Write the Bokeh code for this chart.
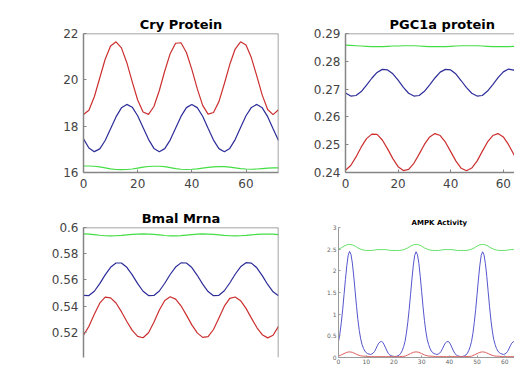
from bokeh.plotting import figure
from bokeh.layouts import column, row
from bokeh.models import Range1d, FixedTicker, Span
from bokeh.embed import file_html
from bokeh.resources import INLINE

# ---------------- data ----------------
t2 = list(range(0, 73, 2))  # hours, every 2 h

cry_red = [18.50, 18.69, 19.27, 20.08, 20.89, 21.46, 21.64, 21.38, 20.74, 19.91, 19.13, 18.61,
           18.51, 18.85, 19.54, 20.38, 21.13, 21.58, 21.60, 21.18, 20.45, 19.62, 18.90, 18.52,
           18.59, 19.06, 19.83, 20.66, 21.33, 21.64, 21.50, 20.95, 20.16, 19.34, 18.72, 18.50, 18.71]
cry_blue = [17.45, 17.06, 16.90, 17.02, 17.38, 17.89, 18.40, 18.79, 18.94, 18.82, 18.45, 17.94,
            17.43, 17.04, 16.90, 17.03, 17.40, 17.91, 18.42, 18.80, 18.94, 18.80, 18.43, 17.91,
            17.40, 17.03, 16.90, 17.04, 17.42, 17.94, 18.45, 18.81, 18.94, 18.79, 18.41, 17.89, 17.38]
cry_green = [16.28, 16.28, 16.27, 16.24, 16.20, 16.16, 16.13, 16.12, 16.13, 16.15, 16.19, 16.23,
             16.26, 16.27, 16.27, 16.25, 16.21, 16.17, 16.14, 16.13, 16.14, 16.16, 16.19, 16.22,
             16.24, 16.25, 16.25, 16.23, 16.20, 16.17, 16.15, 16.14, 16.15, 16.17, 16.19, 16.20, 16.20]

pgc_red = [0.2408, 0.2425, 0.2456, 0.2492, 0.2522, 0.2538, 0.2537, 0.2517, 0.2485, 0.2450, 0.2421, 0.2407,
           0.2411, 0.2433, 0.2466, 0.2501, 0.2528, 0.2540, 0.2533, 0.2509, 0.2475, 0.2441, 0.2415, 0.2406,
           0.2416, 0.2441, 0.2476, 0.2510, 0.2533, 0.2540, 0.2528, 0.2500, 0.2465, 0.2432, 0.2411, 0.2407, 0.2421]
pgc_blue = [0.2686, 0.2675, 0.2677, 0.2691, 0.2714, 0.2739, 0.2760, 0.2771, 0.2769, 0.2755, 0.2732, 0.2706,
            0.2685, 0.2675, 0.2677, 0.2692, 0.2715, 0.2740, 0.2761, 0.2771, 0.2769, 0.2754, 0.2730, 0.2705,
            0.2685, 0.2675, 0.2677, 0.2693, 0.2716, 0.2741, 0.2762, 0.2772, 0.2768, 0.2753, 0.2729, 0.2704, 0.2684]
pgc_green = [0.2858, 0.2857, 0.2856, 0.2855, 0.2854, 0.2853, 0.2853, 0.2853, 0.2854, 0.2855, 0.2855, 0.2856,
             0.2856, 0.2856, 0.2855, 0.2854, 0.2853, 0.2853, 0.2853, 0.2853, 0.2854, 0.2855, 0.2856, 0.2856,
             0.2856, 0.2856, 0.2855, 0.2854, 0.2853, 0.2853, 0.2853, 0.2853, 0.2854, 0.2855, 0.2855, 0.2856, 0.2856]

bmal_red = [0.5177, 0.5245, 0.5338, 0.5422, 0.5468, 0.5463, 0.5423, 0.5357, 0.5282, 0.5214, 0.5169, 0.5158,
            0.5196, 0.5276, 0.5370, 0.5443, 0.5471, 0.5453, 0.5402, 0.5331, 0.5256, 0.5195, 0.5161, 0.5166,
            0.5221, 0.5309, 0.5399, 0.5459, 0.5469, 0.5441, 0.5382, 0.5308, 0.5236, 0.5181, 0.5157, 0.5177, 0.5245]
bmal_blue = [0.5481, 0.5480, 0.5513, 0.5571, 0.5638, 0.5696, 0.5729, 0.5729, 0.5696, 0.5638, 0.5571, 0.5513,
             0.5480, 0.5481, 0.5515, 0.5574, 0.5641, 0.5698, 0.5730, 0.5729, 0.5694, 0.5635, 0.5568, 0.5511,
             0.5479, 0.5482, 0.5517, 0.5576, 0.5643, 0.5700, 0.5731, 0.5728, 0.5692, 0.5632, 0.5565, 0.5509, 0.5479]
bmal_green = [0.5952, 0.5950, 0.5946, 0.5941, 0.5937, 0.5936, 0.5937, 0.5940, 0.5944, 0.5948, 0.5950, 0.5951,
              0.5950, 0.5947, 0.5943, 0.5939, 0.5936, 0.5936, 0.5938, 0.5942, 0.5946, 0.5949, 0.5951, 0.5950,
              0.5948, 0.5944, 0.5940, 0.5937, 0.5936, 0.5937, 0.5940, 0.5944, 0.5947, 0.5949, 0.5950, 0.5949, 0.5946]

t_half = [i * 0.5 for i in range(129)]  # 0 .. 64 h, every 0.5 h
t1 = list(range(0, 65))                 # 0 .. 64 h, every 1 h

ampk_blue = [0.37, 0.55, 0.80, 1.10, 1.45, 1.80, 2.12, 2.36, 2.45, 2.38, 2.18, 1.88, 1.53, 1.18, 0.87, 0.62,
             0.43, 0.30, 0.21, 0.15, 0.11, 0.09, 0.08, 0.07, 0.08, 0.10, 0.14, 0.20, 0.27, 0.33, 0.36, 0.37,
             0.35, 0.29, 0.22, 0.15, 0.09, 0.06, 0.04, 0.03, 0.02, 0.02, 0.03, 0.04, 0.06, 0.10, 0.16, 0.25,
             0.37, 0.56, 0.81, 1.11, 1.46, 1.81, 2.13, 2.36, 2.44, 2.37, 2.17, 1.87, 1.52, 1.17, 0.86, 0.61,
             0.42, 0.30, 0.21, 0.15, 0.11, 0.09, 0.08, 0.07, 0.08, 0.10, 0.14, 0.20, 0.27, 0.33, 0.36, 0.37,
             0.35, 0.29, 0.22, 0.15, 0.09, 0.06, 0.04, 0.03, 0.02, 0.02, 0.03, 0.04, 0.06, 0.10, 0.16, 0.25,
             0.37, 0.56, 0.81, 1.11, 1.46, 1.81, 2.13, 2.36, 2.44, 2.37, 2.17, 1.87, 1.52, 1.17, 0.86, 0.61,
             0.42, 0.30, 0.21, 0.15, 0.11, 0.09, 0.08, 0.07, 0.08, 0.10, 0.14, 0.20, 0.27, 0.33, 0.36, 0.37,
             0.35]
ampk_red = [0.03, 0.06, 0.09, 0.12, 0.13, 0.12, 0.09, 0.06, 0.04, 0.03, 0.03, 0.02, 0.02, 0.02, 0.02, 0.02,
            0.02, 0.02, 0.02, 0.02, 0.02, 0.02, 0.02, 0.025,
            0.03, 0.06, 0.09, 0.12, 0.13, 0.12, 0.09, 0.06, 0.04, 0.03, 0.03, 0.02, 0.02, 0.02, 0.02, 0.02,
            0.02, 0.02, 0.02, 0.02, 0.02, 0.02, 0.02, 0.025,
            0.03, 0.06, 0.09, 0.12, 0.13, 0.12, 0.09, 0.06, 0.04, 0.03, 0.03, 0.02, 0.02, 0.02, 0.02, 0.02,
            0.02]
ampk_green = [2.50, 2.53, 2.57, 2.60, 2.61, 2.60, 2.57, 2.53, 2.50, 2.48, 2.47, 2.47, 2.47, 2.48, 2.49, 2.49,
              2.49, 2.49, 2.48, 2.47, 2.47, 2.47, 2.47, 2.48,
              2.50, 2.53, 2.57, 2.60, 2.61, 2.60, 2.57, 2.53, 2.50, 2.48, 2.47, 2.47, 2.47, 2.48, 2.49, 2.49,
              2.49, 2.49, 2.48, 2.47, 2.47, 2.47, 2.47, 2.48,
              2.50, 2.53, 2.57, 2.60, 2.61, 2.60, 2.57, 2.53, 2.50, 2.48, 2.47, 2.47, 2.47, 2.48, 2.49, 2.49,
              2.49]

RED, BLUE, GREEN = "#cc2f2f", "#2d2d9a", "#44dd44"
FRAME = "#858585"
LABEL = "#444444"
FONT = "DejaVu Sans"


def matlab_panel(title, width, height, xr, yr, yticks, mb, show_x=True,
                 right_edge=None, title_offset=None):
    p = figure(width=width, height=height, x_range=Range1d(*xr), y_range=Range1d(*yr),
               output_backend="svg", toolbar_location=None,
               x_axis_location="below" if show_x else None,
               min_border_left=mb[0], min_border_right=mb[1],
               min_border_top=mb[2], min_border_bottom=mb[3])
    p.outline_line_color = None
    p.background_fill_color = "white"
    p.border_fill_color = "white"
    p.xgrid.visible = False
    p.ygrid.visible = False
    p.yaxis.ticker = FixedTicker(ticks=yticks)
    if show_x:
        p.xaxis.ticker = FixedTicker(ticks=[0, 20, 40, 60])
    for ax in p.axis:
        ax.axis_line_color = FRAME
        ax.axis_line_width = 1.5
        ax.major_tick_line_color = FRAME
        ax.major_tick_in = 3
        ax.major_tick_out = 0
        ax.minor_tick_line_color = None
        ax.major_label_text_font = FONT
        ax.major_label_text_font_size = "12px"
        ax.major_label_text_color = LABEL
    p.yaxis.major_label_standoff = 5
    if show_x:
        p.xaxis.major_label_standoff = 6
    p.add_layout(Span(location=yr[1], dimension="width", line_color=FRAME, line_width=1.5))
    if right_edge is not None:
        p.add_layout(Span(location=right_edge, dimension="height", line_color=FRAME, line_width=1.5))
    p.title.text = title
    p.title.text_font = FONT
    p.title.text_font_size = "13px"
    p.title.text_font_style = "bold"
    p.title.text_color = "black"
    p.title.standoff = 4
    if title_offset is None:
        p.title.align = "center"
    else:
        p.title.align = "left"
        p.title.offset = title_offset
    return p


# Cry Protein
p1 = matlab_panel("Cry Protein", 310, 200, (0, 72), (16, 22), [16, 18, 20, 22],
                  (83, 32, 33, 28), right_edge=72)
p1.line(t2, cry_red, line_color=RED, line_width=1.2)
p1.line(t2, cry_blue, line_color=BLUE, line_width=1.2)
p1.line(t2, cry_green, line_color=GREEN, line_width=1.2)

# PGC1a protein (right part cropped)
p2 = matlab_panel("PGC1a protein", 204, 200, (0, 64.25), (0.24, 0.29),
                  [0.24, 0.25, 0.26, 0.27, 0.28, 0.29], (30, 0, 33, 28), title_offset=44)
p2.line(t2, pgc_red, line_color=RED, line_width=1.2)
p2.line(t2, pgc_blue, line_color=BLUE, line_width=1.2)
p2.line(t2, pgc_green, line_color=GREEN, line_width=1.2)

# Bmal Mrna (bottom cropped)
p3 = matlab_panel("Bmal Mrna", 310, 166, (0, 72), (0.50071, 0.6),
                  [0.5, 0.52, 0.54, 0.56, 0.58, 0.6], (83, 32, 27, 0), show_x=False, right_edge=72)
p3.line(t2, bmal_red, line_color=RED, line_width=1.2)
p3.line(t2, bmal_blue, line_color=BLUE, line_width=1.2)
p3.line(t2, bmal_green, line_color=GREEN, line_width=1.2)

# AMPK Activity (different, lighter style)
p4 = figure(width=204, height=166, x_range=Range1d(0, 63.5), y_range=Range1d(0, 3),
            output_backend="svg", toolbar_location=None,
            min_border_left=28, min_border_right=0, min_border_top=13, min_border_bottom=0)
p4.outline_line_color = None
p4.xgrid.visible = False
p4.ygrid.visible = False
p4.yaxis.ticker = FixedTicker(ticks=[0, 0.5, 1, 1.5, 2, 2.5, 3])
p4.xaxis.ticker = FixedTicker(ticks=[0, 10, 20, 30, 40, 50, 60])
for ax in p4.axis:
    ax.axis_line_color = "#9a9a9a"
    ax.axis_line_width = 1
    ax.major_tick_line_color = "#9a9a9a"
    ax.major_tick_in = 2
    ax.major_tick_out = 0
    ax.minor_tick_line_color = None
    ax.major_label_text_font = FONT
    ax.major_label_text_font_size = "6px"
    ax.major_label_text_color = "#666666"
    ax.major_label_standoff = 2
p4.xaxis.major_label_standoff = 1
p4.title.text = "AMPK Activity"
p4.title.text_font = FONT
p4.title.text_font_size = "7px"
p4.title.text_font_style = "bold"
p4.title.text_color = "black"
p4.title.standoff = 2
p4.title.align = "left"
p4.title.offset = 73
p4.line(t_half, ampk_blue, line_color="#5555cc", line_width=1)
p4.line(t1, ampk_red, line_color="#dd6060", line_width=1)
p4.line(t1, ampk_green, line_color="#66e066", line_width=1)

layout = column(row(p1, p2), row(p3, p4))
open("out.html", "w").write(file_html(layout, INLINE))
